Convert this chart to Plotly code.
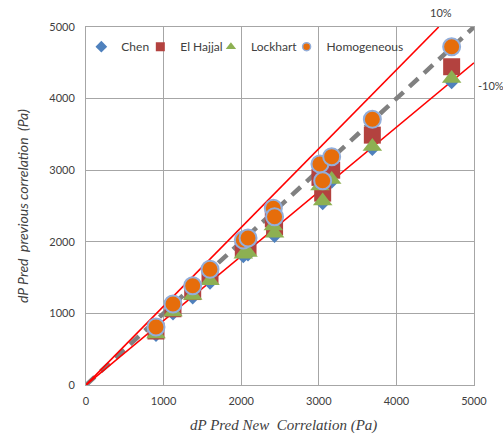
import plotly.graph_objects as go

# x values: dP predicted by new correlation (Pa)
x_new = [902, 1121, 1375, 1598, 2027, 2088, 2414, 2430, 3015, 3050, 3166, 3690, 4712]

# y values: dP predicted by previous correlations (Pa)
chen = [690, 990, 1215, 1420, 1790, 1815, 2175, 2075, 2740, 2530, 2830, 3290, 4220]
el_hajjal = [754, 1065, 1305, 1520, 1905, 1930, 2320, 2210, 2900, 2680, 3000, 3490, 4445]
lockhart = [712, 1020, 1250, 1455, 1825, 1850, 2220, 2120, 2780, 2570, 2870, 3330, 4280]
homogeneous = [810, 1131, 1387, 1616, 2025, 2053, 2468, 2350, 3087, 2853, 3189, 3711, 4725]

# reference lines
unity_x = [0, 5000]
unity_y = [0, 5000]
plus10_x = [0, 4545]
plus10_y = [0, 5000]
minus10_x = [0, 5000]
minus10_y = [0, 4500]

tick_vals = [0, 1000, 2000, 3000, 4000, 5000]

C_BLUE = "#4F81BD"
C_RED = "#B3423F"
C_GREEN = "#8DB052"
C_ORANGE = "#E66D0B"
C_EDGE = "#93AEDA"

fig = go.Figure()

fig.add_trace(go.Scatter(x=unity_x, y=unity_y, mode="lines", showlegend=False,
                         line=dict(color="#808080", width=4.5, dash="12px,8px")))
fig.add_trace(go.Scatter(x=plus10_x, y=plus10_y, mode="lines", showlegend=False,
                         line=dict(color="#FF0000", width=1.6)))
fig.add_trace(go.Scatter(x=minus10_x, y=minus10_y, mode="lines", showlegend=False,
                         line=dict(color="#FF0000", width=1.6)))

fig.add_trace(go.Scatter(x=x_new, y=chen, mode="markers", showlegend=False,
                         marker=dict(symbol="diamond", size=10, color=C_BLUE)))
fig.add_trace(go.Scatter(x=x_new, y=el_hajjal, mode="markers", showlegend=False,
                         marker=dict(symbol="square", size=17, color=C_RED)))
fig.add_trace(go.Scatter(x=x_new, y=lockhart, mode="markers", showlegend=False,
                         marker=dict(symbol="triangle-up", size=17, color=C_GREEN)))
fig.add_trace(go.Scatter(x=x_new, y=homogeneous, mode="markers", showlegend=False,
                         marker=dict(symbol="circle", size=17, color=C_ORANGE,
                                     line=dict(color=C_EDGE, width=2))))

# legend entries (small symbols as in the original legend), one legend each
legend_entries = [
    ("Chen", dict(symbol="diamond", size=9, color=C_BLUE), "legend"),
    ("El Hajjal", dict(symbol="square", size=9, color=C_RED), "legend2"),
    ("Lockhart", dict(symbol="triangle-up", size=9, color=C_GREEN), "legend3"),
    ("Homogeneous", dict(symbol="circle", size=8, color=C_ORANGE,
                         line=dict(color=C_EDGE, width=1.5)), "legend4"),
]
for name, mk, lg in legend_entries:
    fig.add_trace(go.Scatter(x=[None], y=[None], mode="markers", name=name,
                             marker=mk, legend=lg))

axis_common = dict(range=[0, 5000], tickvals=tick_vals, showgrid=True,
                   gridcolor="#A6A6A6", gridwidth=1, showline=True, linecolor="#A6A6A6",
                   linewidth=1, mirror=True, zeroline=False, ticks="",
                   tickfont=dict(family="Lato", size=11, color="#404040"))

def leg(xpos):
    return dict(orientation="h", x=xpos, y=0.945, xanchor="left", yanchor="middle",
                bgcolor="rgba(0,0,0,0)", font=dict(family="Lato", size=12, color="#404040"),
                itemwidth=30)

fig.update_layout(
    width=503, height=439,
    margin=dict(l=86, r=29, t=27, b=54),
    paper_bgcolor="white", plot_bgcolor="white",
    xaxis=dict(**axis_common, ticklabelstandoff=6),
    yaxis=dict(**axis_common, ticklabelstandoff=8),
    showlegend=True,
    legend=leg(-0.012),
    legend2=leg(0.140),
    legend3=leg(0.322),
    legend4=leg(0.517),
    annotations=[
        dict(text="<i>dP Pred New  Correlation (Pa)</i>", xref="paper", yref="paper",
             x=0.51, y=-0.112, xanchor="center", yanchor="middle", showarrow=False,
             font=dict(family="Liberation Serif", size=15, color="#404040")),
        dict(text="<i>dP Pred  previous correlation  (Pa)</i>", xref="paper", yref="paper",
             x=-0.165, y=0.5, xanchor="center", yanchor="middle", showarrow=False, textangle=-90,
             font=dict(family="Lato", size=14, color="#404040")),
        dict(text="10%", xref="paper", yref="paper", x=0.915, y=1.04,
             xanchor="center", yanchor="middle", showarrow=False,
             font=dict(family="Lato", size=11, color="#404040")),
        dict(text="-10%", xref="paper", yref="paper", x=1.005, y=0.837,
             xanchor="left", yanchor="middle", showarrow=False,
             font=dict(family="Lato", size=11, color="#404040")),
    ],
)

fig.write_html("out.html")
